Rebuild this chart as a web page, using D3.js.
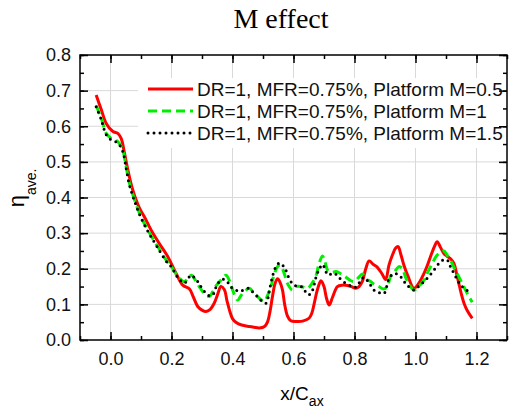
<!DOCTYPE html>
<html>
<head>
<meta charset="utf-8">
<script src="https://cdn.jsdelivr.net/npm/d3@7"></script>
<style>
  body { margin: 0; background: #fff; }
  svg { display: block; }
  .tick text { font-family: "Liberation Sans", Arial, sans-serif; font-size: 18px; fill: #111; }
</style>
</head>
<body>
<div id="chart"></div>
<script>
// M effect - laterally averaged effectiveness vs x/Cax

var xTicks = [0.0, 0.2, 0.4, 0.6, 0.8, 1.0, 1.2];
var yTicks = [0.0, 0.1, 0.2, 0.3, 0.4, 0.5, 0.6, 0.7, 0.8];

var seriesNames = [
  "DR=1, MFR=0.75%, Platform M=0.5",
  "DR=1, MFR=0.75%, Platform M=1",
  "DR=1, MFR=0.75%, Platform M=1.5"
];

// [x/Cax, eta]
var m05 = [[-0.047,0.688],[-0.03,0.646],[-0.014,0.608],[0.008,0.585],[0.024,0.58],[0.035,0.566],[0.046,0.524],[0.057,0.477],[0.073,0.421],[0.095,0.37],[0.111,0.346],[0.133,0.309],[0.16,0.271],[0.188,0.234],[0.215,0.187],[0.237,0.154],[0.259,0.143],[0.272,0.12],[0.286,0.094],[0.3,0.084],[0.313,0.08],[0.327,0.086],[0.34,0.103],[0.352,0.13],[0.362,0.15],[0.373,0.142],[0.382,0.11],[0.39,0.084],[0.4,0.06],[0.411,0.05],[0.43,0.042],[0.455,0.038],[0.47,0.036],[0.488,0.034],[0.505,0.038],[0.515,0.051],[0.523,0.08],[0.531,0.122],[0.54,0.16],[0.548,0.172],[0.556,0.162],[0.564,0.14],[0.571,0.1],[0.58,0.068],[0.591,0.054],[0.61,0.052],[0.63,0.053],[0.651,0.061],[0.66,0.075],[0.668,0.103],[0.678,0.14],[0.69,0.166],[0.7,0.15],[0.708,0.118],[0.717,0.098],[0.728,0.12],[0.744,0.15],[0.76,0.154],[0.777,0.153],[0.79,0.15],[0.804,0.145],[0.815,0.15],[0.826,0.165],[0.837,0.2],[0.848,0.222],[0.862,0.212],[0.875,0.204],[0.89,0.186],[0.902,0.17],[0.913,0.21],[0.924,0.238],[0.935,0.258],[0.943,0.262],[0.952,0.24],[0.962,0.21],[0.975,0.18],[0.995,0.145],[1.01,0.158],[1.028,0.187],[1.04,0.212],[1.05,0.236],[1.062,0.262],[1.071,0.276],[1.082,0.26],[1.093,0.243],[1.104,0.235],[1.115,0.228],[1.126,0.215],[1.135,0.185],[1.142,0.159],[1.15,0.13],[1.159,0.103],[1.17,0.082],[1.186,0.061]];

var m10 = [[-0.047,0.658],[-0.03,0.622],[-0.014,0.58],[0.002,0.566],[0.024,0.557],[0.04,0.533],[0.051,0.487],[0.062,0.44],[0.079,0.393],[0.1,0.346],[0.128,0.3],[0.155,0.262],[0.182,0.225],[0.2,0.205],[0.22,0.18],[0.242,0.164],[0.255,0.175],[0.266,0.182],[0.278,0.168],[0.291,0.15],[0.308,0.13],[0.324,0.122],[0.335,0.135],[0.346,0.152],[0.362,0.168],[0.379,0.182],[0.388,0.17],[0.395,0.154],[0.405,0.13],[0.417,0.112],[0.428,0.125],[0.439,0.136],[0.455,0.145],[0.468,0.135],[0.482,0.122],[0.504,0.108],[0.515,0.125],[0.526,0.15],[0.537,0.185],[0.548,0.206],[0.556,0.21],[0.564,0.2],[0.572,0.18],[0.58,0.159],[0.597,0.14],[0.608,0.15],[0.625,0.15],[0.646,0.145],[0.66,0.158],[0.673,0.178],[0.684,0.215],[0.695,0.236],[0.703,0.22],[0.712,0.196],[0.725,0.19],[0.739,0.192],[0.755,0.186],[0.766,0.18],[0.785,0.168],[0.799,0.164],[0.813,0.175],[0.826,0.185],[0.84,0.17],[0.853,0.164],[0.867,0.155],[0.88,0.15],[0.895,0.143],[0.907,0.15],[0.919,0.18],[0.93,0.19],[0.946,0.206],[0.957,0.2],[0.968,0.175],[0.98,0.155],[0.995,0.14],[1.01,0.15],[1.028,0.168],[1.04,0.19],[1.055,0.215],[1.068,0.235],[1.08,0.245],[1.093,0.25],[1.104,0.238],[1.12,0.215],[1.131,0.195],[1.142,0.178],[1.153,0.158],[1.164,0.14],[1.175,0.122],[1.186,0.106]];

var m15 = [[-0.047,0.655],[-0.03,0.618],[-0.014,0.576],[0.002,0.562],[0.024,0.553],[0.04,0.53],[0.051,0.483],[0.062,0.436],[0.079,0.39],[0.1,0.343],[0.128,0.297],[0.155,0.259],[0.182,0.222],[0.2,0.205],[0.22,0.176],[0.242,0.16],[0.254,0.172],[0.264,0.182],[0.275,0.175],[0.286,0.164],[0.3,0.145],[0.313,0.131],[0.325,0.124],[0.335,0.126],[0.346,0.148],[0.357,0.164],[0.368,0.17],[0.379,0.168],[0.39,0.155],[0.4,0.145],[0.411,0.14],[0.422,0.136],[0.44,0.142],[0.455,0.145],[0.468,0.133],[0.482,0.122],[0.495,0.11],[0.51,0.103],[0.52,0.135],[0.531,0.178],[0.542,0.205],[0.553,0.216],[0.562,0.212],[0.57,0.204],[0.578,0.19],[0.586,0.172],[0.597,0.158],[0.608,0.152],[0.619,0.15],[0.63,0.148],[0.646,0.128],[0.657,0.13],[0.666,0.15],[0.675,0.18],[0.684,0.198],[0.695,0.212],[0.703,0.2],[0.712,0.183],[0.722,0.185],[0.733,0.188],[0.745,0.18],[0.76,0.166],[0.78,0.155],[0.793,0.15],[0.804,0.148],[0.815,0.16],[0.831,0.176],[0.848,0.16],[0.864,0.14],[0.88,0.133],[0.897,0.131],[0.913,0.172],[0.93,0.187],[0.946,0.182],[0.957,0.172],[0.968,0.158],[0.98,0.148],[0.995,0.14],[1.012,0.152],[1.028,0.164],[1.045,0.18],[1.06,0.196],[1.072,0.21],[1.082,0.22],[1.093,0.225],[1.104,0.225],[1.115,0.205],[1.126,0.187],[1.137,0.17],[1.148,0.154],[1.165,0.142],[1.18,0.132]];

var width = 513, height = 409;
var margin = {top: 55, right: 6, bottom: 69, left: 80};
var innerW = width - margin.left - margin.right;
var innerH = height - margin.top - margin.bottom;

var svg = d3.select("#chart").append("svg")
    .attr("width", width)
    .attr("height", height);

var x = d3.scaleLinear().domain([-0.1, 1.3]).range([0, innerW]);
var y = d3.scaleLinear().domain([0, 0.8]).range([innerH, 0]);

var g = svg.append("g")
    .attr("transform", "translate(" + margin.left + "," + margin.top + ")");

// grid
g.append("g").selectAll("line")
    .data(xTicks)
    .enter().append("line")
      .attr("x1", function(d) { return x(d); })
      .attr("x2", function(d) { return x(d); })
      .attr("y1", 0).attr("y2", innerH)
      .attr("stroke", "#d9d9d9").attr("stroke-width", 1);

g.append("g").selectAll("line")
    .data(yTicks.filter(function(d) { return d > 0 && d < 0.8; }))
    .enter().append("line")
      .attr("y1", function(d) { return y(d); })
      .attr("y2", function(d) { return y(d); })
      .attr("x1", 0).attr("x2", innerW)
      .attr("stroke", "#d9d9d9").attr("stroke-width", 1);

// legend background hides grid
g.append("rect")
    .attr("x", 58).attr("y", 23)
    .attr("width", innerW - 59).attr("height", 70)
    .attr("fill", "#fff");

var line = d3.line()
    .x(function(d) { return x(d[0]); })
    .y(function(d) { return y(d[1]); })
    .curve(d3.curveCatmullRom.alpha(0.5));

var styles = [
  {color: "#ff0000", width: 3, dash: null, cap: "butt"},
  {color: "#00ee00", width: 3, dash: "9,5", cap: "butt"},
  {color: "#000000", width: 3, dash: "0,6", cap: "round"}
];

var allSeries = [m05, m10, m15];

allSeries.forEach(function(s, i) {
  g.append("path")
      .datum(s)
      .attr("fill", "none")
      .attr("stroke", styles[i].color)
      .attr("stroke-width", styles[i].width)
      .attr("stroke-dasharray", styles[i].dash)
      .attr("stroke-linecap", styles[i].cap)
      .attr("stroke-linejoin", "round")
      .attr("d", line);
});

// axes: inward ticks on all four sides
var xMinor = d3.range(-0.1, 1.31, 0.1).map(function(d) { return Math.round(d * 10) / 10; });
var yMinor = d3.range(0, 0.81, 0.05).map(function(d) { return Math.round(d * 100) / 100; });

function styleAxis(sel) {
  sel.select(".domain").remove();
  sel.selectAll(".tick line").attr("stroke", "#000").attr("stroke-width", 1.5);
}

g.append("g").attr("transform", "translate(0," + innerH + ")")
    .call(d3.axisBottom(x).tickValues(xMinor).tickSize(-4).tickFormat(""))
    .call(styleAxis);
g.append("g").attr("transform", "translate(0," + innerH + ")")
    .call(d3.axisBottom(x).tickValues(xTicks).tickSize(-8).tickPadding(12).tickFormat(d3.format(".1f")))
    .call(styleAxis);
g.append("g")
    .call(d3.axisTop(x).tickValues(xMinor).tickSize(-4).tickFormat(""))
    .call(styleAxis);
g.append("g")
    .call(d3.axisTop(x).tickValues(xTicks).tickSize(-8).tickFormat(""))
    .call(styleAxis);

g.append("g")
    .call(d3.axisLeft(y).tickValues(yMinor).tickSize(-4).tickFormat(""))
    .call(styleAxis);
g.append("g")
    .call(d3.axisLeft(y).tickValues(yTicks).tickSize(-8).tickPadding(9).tickFormat(d3.format(".1f")))
    .call(styleAxis);
g.append("g").attr("transform", "translate(" + innerW + ",0)")
    .call(d3.axisRight(y).tickValues(yMinor).tickSize(-4).tickFormat(""))
    .call(styleAxis);
g.append("g").attr("transform", "translate(" + innerW + ",0)")
    .call(d3.axisRight(y).tickValues(yTicks).tickSize(-8).tickFormat(""))
    .call(styleAxis);

g.append("rect")
    .attr("width", innerW).attr("height", innerH)
    .attr("fill", "none").attr("stroke", "#000").attr("stroke-width", 1.5);

// legend
var legend = g.append("g").attr("transform", "translate(68,34)");
seriesNames.forEach(function(name, i) {
  var row = legend.append("g").attr("transform", "translate(0," + (i * 22) + ")");
  row.append("line")
      .attr("x1", 0).attr("x2", 45)
      .attr("stroke", styles[i].color)
      .attr("stroke-width", styles[i].width)
      .attr("stroke-dasharray", styles[i].dash)
      .attr("stroke-linecap", styles[i].cap);
  row.append("text")
      .attr("x", 49).attr("dy", "0.36em")
      .style("font-family", "'Liberation Sans', Arial, sans-serif")
      .style("font-size", "19px")
      .attr("fill", "#111")
      .text(name);
});

// title
svg.append("text")
    .attr("x", 281).attr("y", 28)
    .attr("text-anchor", "middle")
    .style("font-family", "'Liberation Serif', 'Times New Roman', serif")
    .style("font-size", "28px")
    .text("M effect");

// x label
var xl = svg.append("text")
    .attr("x", 302).attr("y", 400)
    .attr("text-anchor", "middle")
    .style("font-family", "'Liberation Sans', Arial, sans-serif")
    .style("font-size", "19px");
xl.append("tspan").text("x/C");
xl.append("tspan").attr("dy", 6).style("font-size", "14px").text("ax");

// y label
var yl = svg.append("text")
    .attr("transform", "translate(24,188) rotate(-90)")
    .attr("text-anchor", "middle")
    .style("font-family", "'Liberation Sans', Arial, sans-serif")
    .style("font-size", "22px");
yl.append("tspan").text("\u03b7");
yl.append("tspan").attr("dy", 12).style("font-size", "14px").text("ave.");
</script>
</body>
</html>
